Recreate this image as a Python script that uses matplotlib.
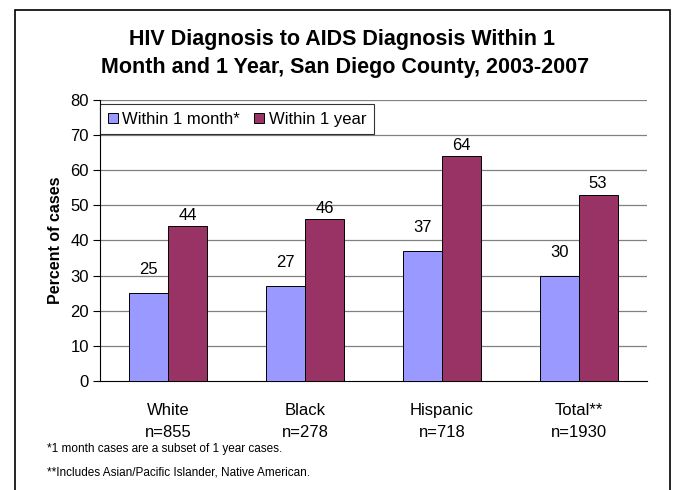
import matplotlib
matplotlib.use("Agg")
import matplotlib.pyplot as plt
from matplotlib.patches import Rectangle
import numpy as np

plt.rcParams['font.family'] = ['Liberation Sans', 'DejaVu Sans']

groups = ["White", "Black", "Hispanic", "Total**"]
counts = ["n=855", "n=278", "n=718", "n=1930"]
month = [25, 27, 37, 30]
year = [44, 46, 64, 53]
yticks = [0, 10, 20, 30, 40, 50, 60, 70, 80]

fig = plt.figure(figsize=(6.76, 4.9), dpi=100)
ax = fig.add_axes([100 / 676, 1 - 381 / 490, 547 / 676, 281 / 490])

# outer frame of the chart object
fig.patches.append(Rectangle((15 / 676, -0.05), 655 / 676, 1.05 - 10 / 490,
                             transform=fig.transFigure, fill=False,
                             edgecolor="black", linewidth=1.2))

x = np.arange(len(groups))
w = 0.285
b1 = ax.bar(x - w / 2, month, w, color="#9999FF", edgecolor="black",
            linewidth=0.7, label="Within 1 month*", zorder=3)
b2 = ax.bar(x + w / 2, year, w, color="#993366", edgecolor="black",
            linewidth=0.7, label="Within 1 year", zorder=3)

# value labels (month labels sit higher above the bar than year labels)
for bars, vals, off in ((b1, month, 17), (b2, year, 8)):
    for r, v in zip(bars, vals):
        ax.annotate(str(v), (r.get_x() + r.get_width() / 2, v),
                    xytext=(0, off), textcoords="offset points",
                    ha="center", va="center", fontsize=12)

ax.set_xlim(-0.5, len(groups) - 0.5)
ax.set_ylim(0, 80)
ax.set_yticks(yticks)
ax.tick_params(axis="y", direction="out", length=5, labelsize=12, width=0.8, pad=3)
ax.set_xticks([])
for yv in yticks[1:]:
    ax.axhline(yv, color="#808080", linewidth=0.9, zorder=1)
for s in ("top", "right"):
    ax.spines[s].set_visible(False)
ax.spines["left"].set_linewidth(0.8)
ax.spines["bottom"].set_linewidth(0.8)
ax.set_ylabel("Percent of cases", fontsize=11.5, fontweight="bold", labelpad=5)

for i, (g, n) in enumerate(zip(groups, counts)):
    ax.text(i, -8.3, g, ha="center", va="center", fontsize=12)
    ax.text(i, -14.8, n, ha="center", va="center", fontsize=12)

leg = ax.legend(loc="upper left", bbox_to_anchor=(0.0, 0.985), ncol=2,
                fontsize=12, frameon=True, fancybox=False, borderpad=0.45,
                handlelength=0.6, handleheight=0.6, handletextpad=0.3,
                columnspacing=0.8, borderaxespad=0.0)
leg.get_frame().set_edgecolor("black")
leg.get_frame().set_linewidth(0.8)

fig.text(342 / 676, 1 - 39 / 490, "HIV Diagnosis to AIDS Diagnosis Within 1",
         ha="center", va="center", fontsize=15.5, fontweight="bold")
fig.text(345 / 676, 1 - 68 / 490, "Month and 1 Year, San Diego County, 2003-2007",
         ha="center", va="center", fontsize=15.5, fontweight="bold")

fig.text(47 / 676, 1 - 449 / 490, "*1 month cases are a subset of 1 year cases.",
         ha="left", va="center", fontsize=8.5)
fig.text(47 / 676, 1 - 472 / 490, "**Includes Asian/Pacific Islander, Native American.",
         ha="left", va="center", fontsize=8.5)

fig.savefig("out.png", dpi=100)
